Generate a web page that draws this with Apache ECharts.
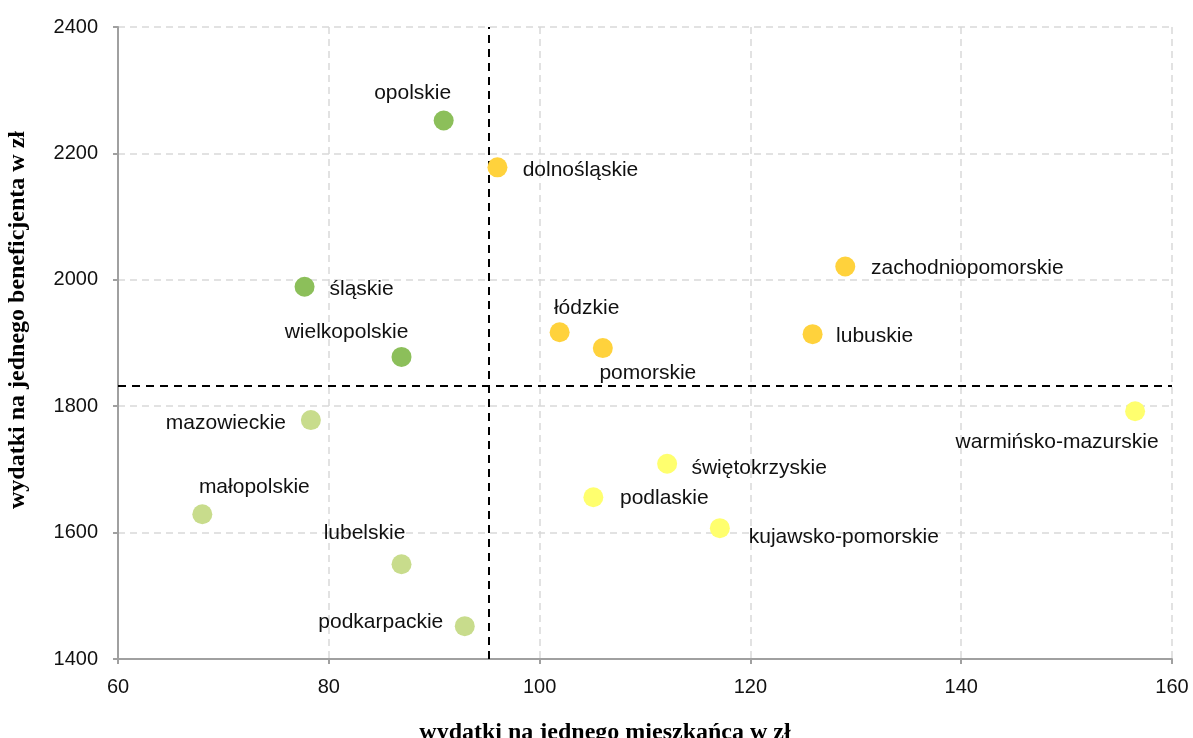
<!DOCTYPE html>
<html>
<head>
<meta charset="utf-8">
<title>wydatki</title>
<script src="https://cdn.jsdelivr.net/npm/echarts@6/dist/echarts.min.js"></script>
<style>
  html, body { margin: 0; padding: 0; background: #fff; }
  #chart { width: 1193px; height: 738px; }
</style>
</head>
<body>
<div id="chart"></div>
<script>
// dane
var regions = ['opolskie', 'śląskie', 'wielkopolskie', 'dolnośląskie', 'zachodniopomorskie', 'łódzkie', 'lubuskie', 'pomorskie',
  'mazowieckie', 'małopolskie', 'lubelskie', 'podkarpackie', 'warmińsko-mazurskie', 'świętokrzyskie', 'podlaskie', 'kujawsko-pomorskie']
var perResident = [90.9, 77.7, 86.9, 96.0, 129.0, 101.9, 125.9, 106.0,
  78.3, 68.0, 86.9, 92.9, 156.5, 112.1, 105.1, 117.1]
var perBeneficiary = [2252, 1989, 1878, 2178, 2021, 1917, 1914, 1892,
  1778, 1629, 1550, 1452, 1792, 1709, 1656, 1607]
var quadrant = ['A', 'A', 'A', 'B', 'B', 'B', 'B', 'B',
  'C', 'C', 'C', 'C', 'D', 'D', 'D', 'D']
var avgResident = 95.2
var avgBeneficiary = 1832
var xTicks = [60, 80, 100, 120, 140, 160]
var yTicks = [1400, 1600, 1800, 2000, 2200, 2400]

// styl etykiet (przesunięcie względem punktu)
var labelOffsets = {
  'opolskie': [-31, -27],
  'śląskie': [57, 2],
  'wielkopolskie': [-55, -25],
  'dolnośląskie': [83, 3],
  'zachodniopomorskie': [122, 2],
  'łódzkie': [27, -24],
  'lubuskie': [62, 2],
  'pomorskie': [45, 25],
  'mazowieckie': [-85, 3],
  'małopolskie': [52, -27],
  'lubelskie': [-37, -31],
  'podkarpackie': [-84, -4],
  'warmińsko-mazurskie': [-78, 31],
  'świętokrzyskie': [92, 4],
  'podlaskie': [71, 1],
  'kujawsko-pomorskie': [124, 9]
}
var colors = { A: '#8cbf5a', B: '#ffd23c', C: '#c8dc8c', D: '#ffff6e' }

function pointsFor (q) {
  var out = []
  for (var i = 0; i < regions.length; i++) {
    if (quadrant[i] !== q) continue
    out.push({
      name: regions[i],
      value: [perResident[i], perBeneficiary[i]],
      label: { offset: labelOffsets[regions[i]] }
    })
  }
  return out
}

var font = '"Liberation Sans", Arial, sans-serif'
var titleFont = '"Liberation Serif", "Times New Roman", serif'

var series = ['A', 'B', 'C', 'D'].map(function (q) {
  return {
    type: 'scatter',
    symbolSize: 20,
    data: pointsFor(q),
    itemStyle: { color: colors[q], opacity: 1 },
    label: {
      show: true,
      position: 'inside',
      formatter: '{b}',
      color: '#111',
      fontSize: 21,
      fontFamily: font
    },
    z: 3
  }
})

// linie średnich
series[0].markLine = {
  silent: true,
  symbol: 'none',
  label: { show: false },
  lineStyle: { color: '#000', type: [8, 6], width: 2 },
  data: [{ xAxis: avgResident }, { yAxis: avgBeneficiary }],
  z: 2
}

var chart = echarts.init(document.getElementById('chart'))
chart.setOption({
  animation: false,
  grid: { left: 118, right: 21, top: 27, bottom: 79, outerBoundsMode: 'none' },
  xAxis: {
    type: 'value',
    min: xTicks[0],
    max: xTicks[xTicks.length - 1],
    interval: 20,
    name: 'wydatki na jednego mieszkańca w zł',
    nameLocation: 'middle',
    nameGap: 62,
    nameTextStyle: {
      fontFamily: titleFont, fontWeight: 'bold', fontSize: 24, color: '#000',
      padding: [0, 80, 0, 0]
    },
    axisLine: { show: true, lineStyle: { color: '#a0a0a0', width: 2 } },
    axisTick: { show: true, length: 5, lineStyle: { color: '#a0a0a0', width: 2 } },
    axisLabel: { fontFamily: font, fontSize: 20, color: '#111', margin: 18 },
    splitLine: { show: true, lineStyle: { color: '#d9d9d9', width: 1.5, type: [7, 5] } }
  },
  yAxis: {
    type: 'value',
    min: yTicks[0],
    max: yTicks[yTicks.length - 1],
    interval: 200,
    name: 'wydatki na jednego beneficjenta w zł',
    nameLocation: 'middle',
    nameGap: 88,
    nameTextStyle: {
      fontFamily: titleFont, fontWeight: 'bold', fontSize: 24, color: '#000',
      padding: [0, 0, 0, 46]
    },
    axisLine: { show: true, lineStyle: { color: '#a0a0a0', width: 2 } },
    axisTick: { show: true, length: 5, lineStyle: { color: '#a0a0a0', width: 2 } },
    axisLabel: {
      fontFamily: font, fontSize: 20, color: '#111', margin: 20,
      formatter: function (v) { return String(v) }
    },
    splitLine: { show: true, lineStyle: { color: '#d9d9d9', width: 1.5, type: [7, 5] } }
  },
  series: series
})
</script>
</body>
</html>
